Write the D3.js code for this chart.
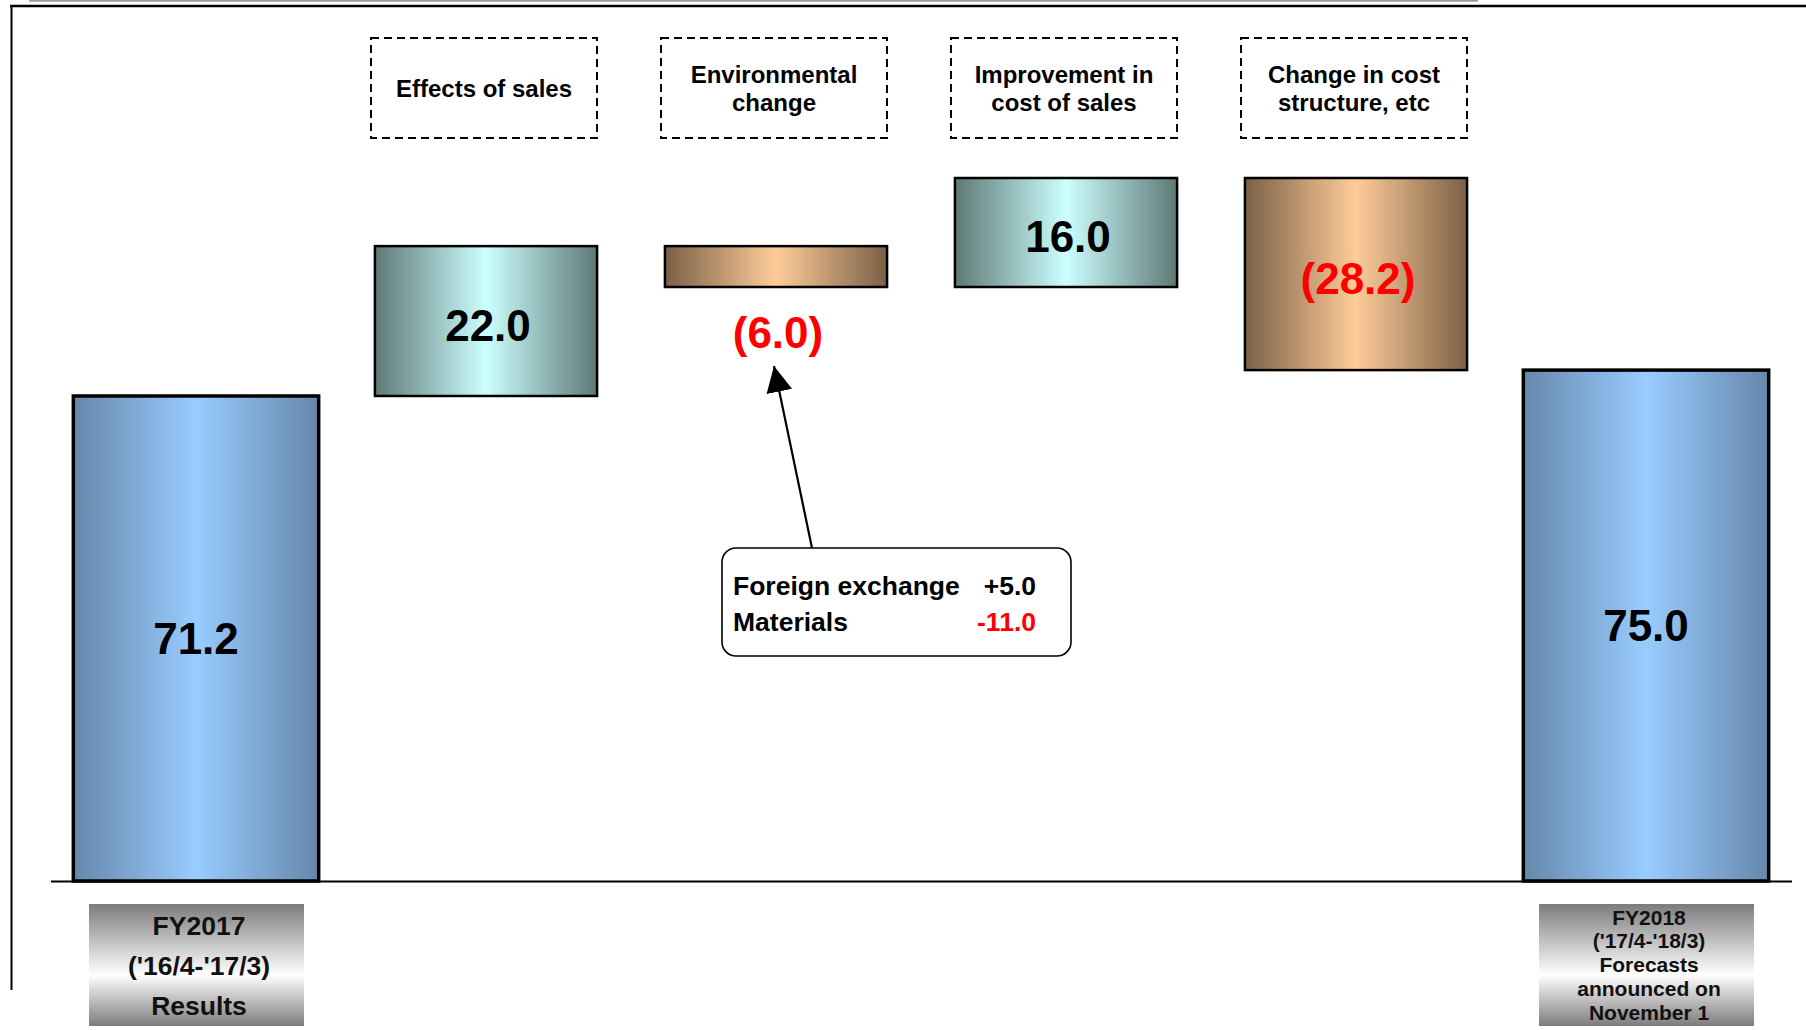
<!DOCTYPE html>
<html>
<head>
<meta charset="utf-8">
<script src="https://cdn.jsdelivr.net/npm/d3@7"></script>
<style>
  html, body { margin: 0; padding: 0; background: #ffffff; overflow: hidden; }
  svg { display: block; font-family: "Liberation Sans", Arial, Helvetica, sans-serif; font-weight: bold; }
</style>
</head>
<body>
<svg id="chart" width="1806" height="1030"></svg>
<script>
// Operating income bridge, FY2017 results to FY2018 forecasts (billion yen)
const steps = ["start", "sales", "env", "cost", "structure", "end"];
const stepKinds = ["total", "delta", "delta", "delta", "delta", "total"];
const values = [71.2, 22.0, -6.0, 16.0, -28.2, 75.0];

// Header captions above each delta bar
const headerLines = [
  null,
  ["Effects of sales"],
  ["Environmental", "change"],
  ["Improvement in", "cost of sales"],
  ["Change in cost", "structure, etc"],
  null
];

// Captions under the two total bars
const totalLabels = [
  ["FY2017", "('16/4-'17/3)", "Results"],
  null, null, null, null,
  ["FY2018", "('17/4-'18/3)", "Forecasts", "announced on", "November 1"]
];

// Breakdown of the environmental change
const envNames = ["Foreign exchange", "Materials"];
const envValues = [5.0, -11.0];

const svg = d3.select("#chart");
const defs = svg.append("defs");

function hGradient(id, edge, mid) {
  const g = defs.append("linearGradient").attr("id", id)
    .attr("x1", "0%").attr("x2", "100%").attr("y1", "0%").attr("y2", "0%");
  g.append("stop").attr("offset", "0%").attr("stop-color", edge);
  g.append("stop").attr("offset", "50%").attr("stop-color", mid);
  g.append("stop").attr("offset", "100%").attr("stop-color", edge);
}
hGradient("gTotal", "#6687ab", "#99ccff");
hGradient("gUp", "#5e7976", "#ccffff");
hGradient("gDown", "#7b6046", "#ffcc99");

const gLabel = defs.append("linearGradient").attr("id", "gLabel")
  .attr("x1", "0%").attr("x2", "0%").attr("y1", "0%").attr("y2", "100%");
gLabel.append("stop").attr("offset", "0%").attr("stop-color", "#7c7c7c");
gLabel.append("stop").attr("offset", "58%").attr("stop-color", "#ffffff");
gLabel.append("stop").attr("offset", "100%").attr("stop-color", "#7c7c7c");

// Waterfall extents
let running = 0;
const bars = values.map((v, i) => {
  let lo, hi;
  if (stepKinds[i] === "total") { lo = 0; hi = v; running = v; }
  else { const prev = running; running = prev + v; lo = Math.min(prev, running); hi = Math.max(prev, running); }
  return { i, key: steps[i], kind: stepKinds[i], value: v, lo, hi };
});
const yMax = d3.max(bars, d => d.hi);

const x = d3.scaleBand().domain(steps).range([51, 1791]).paddingInner(0).paddingOuter(0);
const y = d3.scaleLinear().domain([0, yMax]).range([881, 178]);
const cx = k => x(k) + x.bandwidth() / 2;

// Frame lines
svg.append("line").attr("x1", 30).attr("x2", 1477).attr("y1", 0.8).attr("y2", 0.8)
  .attr("stroke", "#9a9a9a").attr("stroke-width", 2).attr("stroke-linecap", "round");
svg.append("line").attr("x1", 10).attr("x2", 1806).attr("y1", 6).attr("y2", 6)
  .attr("stroke", "#000").attr("stroke-width", 2.5);
svg.append("line").attr("x1", 11.5).attr("x2", 11.5).attr("y1", 5).attr("y2", 990)
  .attr("stroke", "#000").attr("stroke-width", 2);

// Bars
const barW = d => d.kind === "total" ? x.bandwidth() * 0.846 : x.bandwidth() * 0.766;
const fillOf = d => d.kind === "total" ? "url(#gTotal)" : (d.value >= 0 ? "url(#gUp)" : "url(#gDown)");

svg.append("g").selectAll("rect").data(bars).join("rect")
  .attr("x", d => cx(d.key) - barW(d) / 2)
  .attr("width", d => barW(d))
  .attr("y", d => y(d.hi))
  .attr("height", d => y(d.lo) - y(d.hi))
  .attr("fill", fillOf)
  .attr("stroke", "#000")
  .attr("stroke-width", d => d.kind === "total" ? 3.5 : 2.5);

// Baseline
svg.append("line").attr("x1", 51).attr("x2", 1792).attr("y1", y(0) + 0.5).attr("y2", y(0) + 0.5)
  .attr("stroke", "#000").attr("stroke-width", 2);

// Value labels
const fmt = v => v < 0 ? "(" + d3.format(".1f")(-v) + ")" : d3.format(".1f")(v);
svg.append("g").selectAll("text").data(bars).join("text")
  .attr("x", d => cx(d.key) + (d.kind === "delta" ? 2 : 0))
  .attr("y", d => {
    const h = y(d.lo) - y(d.hi);
    return h < 70 ? y(d.lo) + 45 : (y(d.hi) + y(d.lo)) / 2 + (d.kind === "delta" ? 4 : 0);
  })
  .attr("dy", "0.36em")
  .attr("text-anchor", "middle")
  .attr("font-size", 44)
  .attr("fill", d => d.value < 0 ? "#ff0000" : "#000")
  .text(d => fmt(d.value));

// Dashed headers
const headers = svg.append("g").selectAll("g").data(bars.filter(d => headerLines[d.i])).join("g");
headers.append("rect")
  .attr("x", d => cx(d.key) - 2 - 113)
  .attr("y", 38)
  .attr("width", 226)
  .attr("height", 100)
  .attr("fill", "none")
  .attr("stroke", "#000")
  .attr("stroke-width", 2)
  .attr("stroke-dasharray", "8,5");
headers.each(function (d) {
  const lines = headerLines[d.i];
  const g = d3.select(this);
  const lh = 28;
  const top = 88 - (lines.length - 1) * lh / 2;
  lines.forEach((t, j) => {
    g.append("text").attr("x", cx(d.key) - 2).attr("y", top + j * lh)
      .attr("dy", "0.36em").attr("text-anchor", "middle").attr("font-size", 24)
      .attr("fill", "#000").text(t);
  });
});

// Captions under total bars
const caps = svg.append("g").selectAll("g").data(bars.filter(d => totalLabels[d.i])).join("g");
caps.append("rect")
  .attr("x", d => cx(d.key) - 107)
  .attr("y", 904)
  .attr("width", 215)
  .attr("height", 122)
  .attr("fill", "url(#gLabel)");
caps.each(function (d) {
  const lines = totalLabels[d.i];
  const g = d3.select(this);
  const many = lines.length > 3;
  const lh = many ? 23.8 : 40;
  const fs = many ? 21 : 26.5;
  const first = many ? 917 : 925;
  lines.forEach((t, j) => {
    g.append("text").attr("x", cx(d.key) + 3).attr("y", first + j * lh)
      .attr("dy", "0.36em").attr("text-anchor", "middle").attr("font-size", fs)
      .attr("fill", "#111").text(t);
  });
});

// Environmental change breakdown callout
const envKey = "env";
const envBar = bars.find(d => d.key === envKey);
const bx = cx(envKey) - 54, by = 548, bw = 349, bh = 108;
defs.append("marker").attr("id", "arrowHead")
  .attr("viewBox", "0 0 10 10").attr("refX", 10).attr("refY", 5)
  .attr("markerWidth", 26).attr("markerHeight", 26)
  .attr("markerUnits", "userSpaceOnUse")
  .attr("orient", "auto")
  .append("path").attr("d", "M0,0 L10,5 L0,10 Z").attr("fill", "#000");

svg.append("line")
  .attr("x1", bx + 90).attr("y1", by)
  .attr("x2", cx(envKey) - 2).attr("y2", y(envBar.lo) + 79)
  .attr("stroke", "#000").attr("stroke-width", 2.2)
  .attr("marker-end", "url(#arrowHead)");

svg.append("rect").attr("x", bx).attr("y", by).attr("width", bw).attr("height", bh)
  .attr("rx", 14).attr("ry", 14).attr("fill", "#fff").attr("stroke", "#000").attr("stroke-width", 1.6);

const sgn = v => (v > 0 ? "+" : v < 0 ? "-" : "") + d3.format(".1f")(Math.abs(v));
envNames.forEach((n, j) => {
  const ty = by + 37 + j * 36;
  svg.append("text").attr("x", bx + 11).attr("y", ty).attr("dy", "0.36em")
    .attr("font-size", 26.5).attr("fill", "#000").text(n);
  svg.append("text").attr("x", bx + 314).attr("y", ty).attr("dy", "0.36em")
    .attr("text-anchor", "end").attr("font-size", 26.5)
    .attr("fill", envValues[j] < 0 ? "#ff0000" : "#000").text(sgn(envValues[j]));
});
</script>
</body>
</html>
